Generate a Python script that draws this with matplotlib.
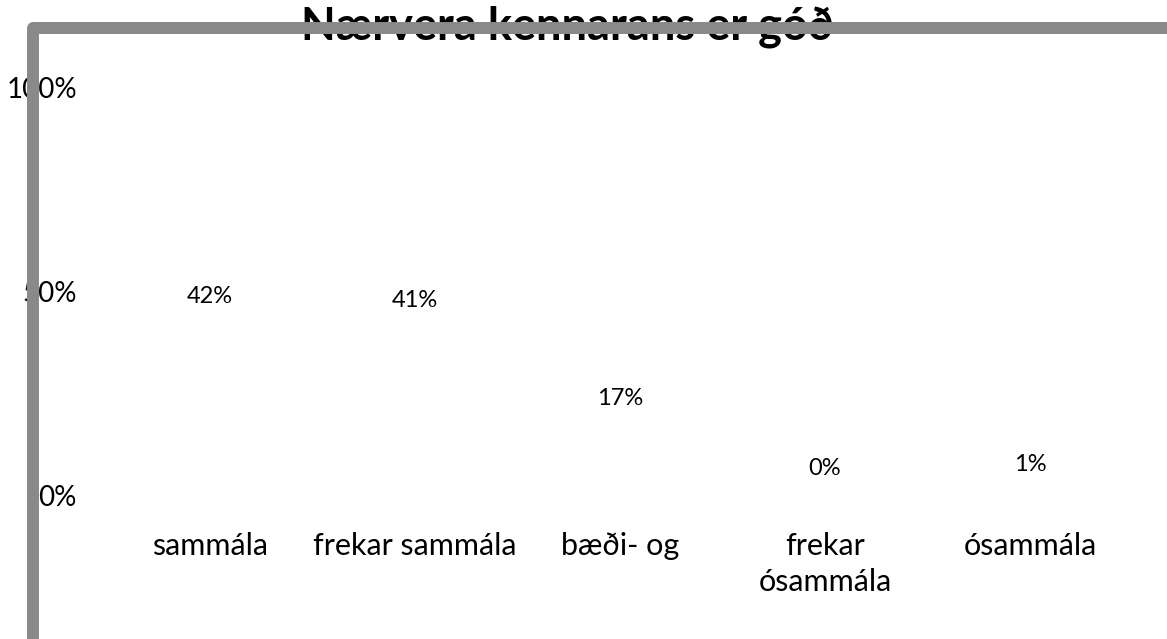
import matplotlib.pyplot as plt
from matplotlib.lines import Line2D

plt.rcParams['font.family'] = ['Lato', 'DejaVu Sans']

categories = ["sammála", "frekar sammála", "bæði- og", "frekar\nósammála", "ósammála"]
values = [42, 41, 17, 0, 1]
value_labels = ["42%", "41%", "17%", "0%", "1%"]
yticks = [0, 50, 100]
ytick_labels = ["0%", "50%", "100%"]
title = "Nærvera kennarans er góð"

W, H = 1167, 639
fig = plt.figure(figsize=(W / 100, H / 100), dpi=100)

# axes placed in pixel terms: y=0 at 496px, y=100 at 88px from top
left, right = 107.5, 1132.5
bottom, top = 496, 88
ax = fig.add_axes([left / W, (H - bottom) / H, (right - left) / W, (bottom - top) / H])

x = range(len(categories))
bars = ax.bar(x, values, width=0.6, color="none", edgecolor="none")
for b, lab in zip(bars, value_labels):
    ax.annotate(lab, (b.get_x() + b.get_width() / 2, b.get_height()),
                xytext=(0, 20), textcoords="offset points",
                ha="center", va="center", fontsize=17)

ax.set_xlim(-0.5, len(categories) - 0.5)
ax.set_ylim(0, 100)
ax.set_xticks(list(x))
ax.set_xticklabels(categories, fontsize=22, linespacing=1.35)
ax.set_yticks(yticks)
ax.set_yticklabels(ytick_labels, fontsize=20)
ax.tick_params(axis="x", length=0, pad=26)
ax.tick_params(axis="y", length=0, pad=22)
for s in ax.spines.values():
    s.set_visible(False)

fig.text(567 / W, 1 - 40 / H, title, ha="center", va="baseline",
         fontsize=32.5, fontweight="bold", zorder=1)

# grey frame on top/left that runs over the title and tick labels
frame = Line2D([33 / W, 33 / W, 1.02], [-0.02, 1 - 28 / H, 1 - 28 / H],
               transform=fig.transFigure, color="#898989", linewidth=8.6,
               solid_joinstyle="round", solid_capstyle="butt", zorder=10)
fig.add_artist(frame)

fig.savefig("out.png", dpi=100)
